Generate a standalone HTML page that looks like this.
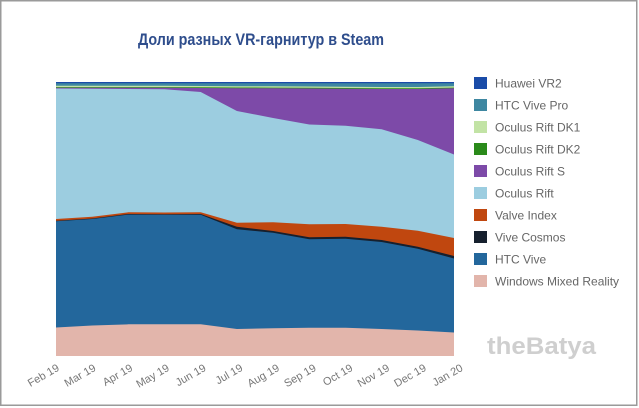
<!DOCTYPE html>
<html>
<head>
<meta charset="utf-8">
<style>
  html,body{margin:0;padding:0;background:#fff;}
  svg{display:block;}
</style>
</head>
<body>
<svg width="639" height="408" viewBox="0 0 639 408" xmlns="http://www.w3.org/2000/svg">
  <rect x="0" y="0" width="639" height="408" fill="#fff"/>
  <rect x="0.75" y="0.75" width="636" height="404.5" fill="none" stroke="#9a9a9a" stroke-width="1.5"/>

  <text x="138" y="45" font-family="Liberation Sans, sans-serif" font-size="17" font-weight="bold" fill="#2e4d8c" textLength="246" lengthAdjust="spacingAndGlyphs">Доли разных VR-гарнитур в Steam</text>

  <!-- stacked areas -->
  <rect x="56" y="82" width="398" height="274" fill="#1a4ca8"/>
  <polygon fill="#3e87a1" points="56,83.3 454,83.3 454,356 56,356"/>
  <polygon fill="#c2e3a5" points="56,85.8 92.2,85.8 128.4,85.8 164.5,85.8 200.7,86 236.9,86.2 273.1,86.3 309.3,86.5 345.5,86.7 381.6,87 417.8,87 454,86.3 454,356 56,356"/>
  <polygon fill="#2a8a1a" points="56,87.1 92.2,87.1 128.4,87.1 164.5,87.1 200.7,87.3 236.9,87.5 273.1,87.6 309.3,87.8 345.5,88 381.6,88.3 417.8,88.3 454,87.6 454,356 56,356"/>
  <polygon fill="#7d4aa8" points="56,87.8 92.2,87.8 128.4,87.8 164.5,87.8 200.7,88 236.9,88.2 273.1,88.3 309.3,88.5 345.5,88.7 381.6,89 417.8,89 454,88.3 454,356 56,356"/>
  <polygon fill="#9ccde0" points="56,88.5 92.2,88.7 128.4,89 164.5,89.2 200.7,92 236.9,111 273.1,118 309.3,124.5 345.5,125.7 381.6,129.3 417.8,140 454,154.5 454,356 56,356"/>
  <polygon fill="#c0470f" points="56,219 92.2,216.7 128.4,212.3 164.5,212.5 200.7,212.3 236.9,222.7 273.1,222.3 309.3,224.3 345.5,224 381.6,226.7 417.8,230.7 454,238 454,356 56,356"/>
  <polygon fill="#16202e" points="56,220.8 92.2,218.5 128.4,214 164.5,214.2 200.7,214 236.9,226.7 273.1,231 309.3,237.3 345.5,236.7 381.6,240 417.8,246.7 454,256 454,356 56,356"/>
  <polygon fill="#23679c" points="56,221.3 92.2,219 128.4,214.6 164.5,214.8 200.7,214.8 236.9,229.3 273.1,232.7 309.3,239.3 345.5,238.7 381.6,242 417.8,248.7 454,258.5 454,356 56,356"/>
  <polygon fill="#e2b5ab" points="56,327.5 92.2,325.5 128.4,324.3 164.5,324.3 200.7,324.3 236.9,329 273.1,328.3 309.3,327.7 345.5,327.7 381.6,329 417.8,330.5 454,332.5 454,356 56,356"/>

  <!-- x axis labels -->
  <g font-family="Liberation Sans, sans-serif" font-size="11" fill="#777" text-anchor="end">
    <text x="60" y="370" transform="rotate(-30 60 370)">Feb 19</text>
    <text x="96.7" y="370" transform="rotate(-30 96.7 370)">Mar 19</text>
    <text x="133.4" y="370" transform="rotate(-30 133.4 370)">Apr 19</text>
    <text x="170.1" y="370" transform="rotate(-30 170.1 370)">May 19</text>
    <text x="206.8" y="370" transform="rotate(-30 206.8 370)">Jun 19</text>
    <text x="243.5" y="370" transform="rotate(-30 243.5 370)">Jul 19</text>
    <text x="280.2" y="370" transform="rotate(-30 280.2 370)">Aug 19</text>
    <text x="316.9" y="370" transform="rotate(-30 316.9 370)">Sep 19</text>
    <text x="353.6" y="370" transform="rotate(-30 353.6 370)">Oct 19</text>
    <text x="390.3" y="370" transform="rotate(-30 390.3 370)">Nov 19</text>
    <text x="427" y="370" transform="rotate(-30 427 370)">Dec 19</text>
    <text x="463.7" y="370" transform="rotate(-30 463.7 370)">Jan 20</text>
  </g>

  <!-- legend -->
  <g font-family="Liberation Sans, sans-serif" font-size="12" fill="#666">
    <rect x="474" y="77" width="13" height="12" fill="#1a4ca8"/><text x="495" y="87.5">Huawei VR2</text>
    <rect x="474" y="99" width="13" height="12" fill="#3e87a1"/><text x="495" y="109.5">HTC Vive Pro</text>
    <rect x="474" y="121" width="13" height="12" fill="#c2e3a5"/><text x="495" y="131.5">Oculus Rift DK1</text>
    <rect x="474" y="143" width="13" height="12" fill="#2a8a1a"/><text x="495" y="153.5">Oculus Rift DK2</text>
    <rect x="474" y="165" width="13" height="12" fill="#7d4aa8"/><text x="495" y="175.5">Oculus Rift S</text>
    <rect x="474" y="187" width="13" height="12" fill="#9ccde0"/><text x="495" y="197.5">Oculus Rift</text>
    <rect x="474" y="209" width="13" height="12" fill="#c0470f"/><text x="495" y="219.5">Valve Index</text>
    <rect x="474" y="231" width="13" height="12" fill="#16202e"/><text x="495" y="241.5">Vive Cosmos</text>
    <rect x="474" y="253" width="13" height="12" fill="#23679c"/><text x="495" y="263.5">HTC Vive</text>
    <rect x="474" y="275" width="13" height="12" fill="#e2b5ab"/><text x="495" y="285.5">Windows Mixed Reality</text>
  </g>

  <!-- watermark -->
  <text x="487" y="354" font-family="Liberation Sans, sans-serif" font-size="24" font-weight="bold" fill="#cfcfcf" textLength="109" lengthAdjust="spacingAndGlyphs">theBatya</text>
</svg>
</body>
</html>
